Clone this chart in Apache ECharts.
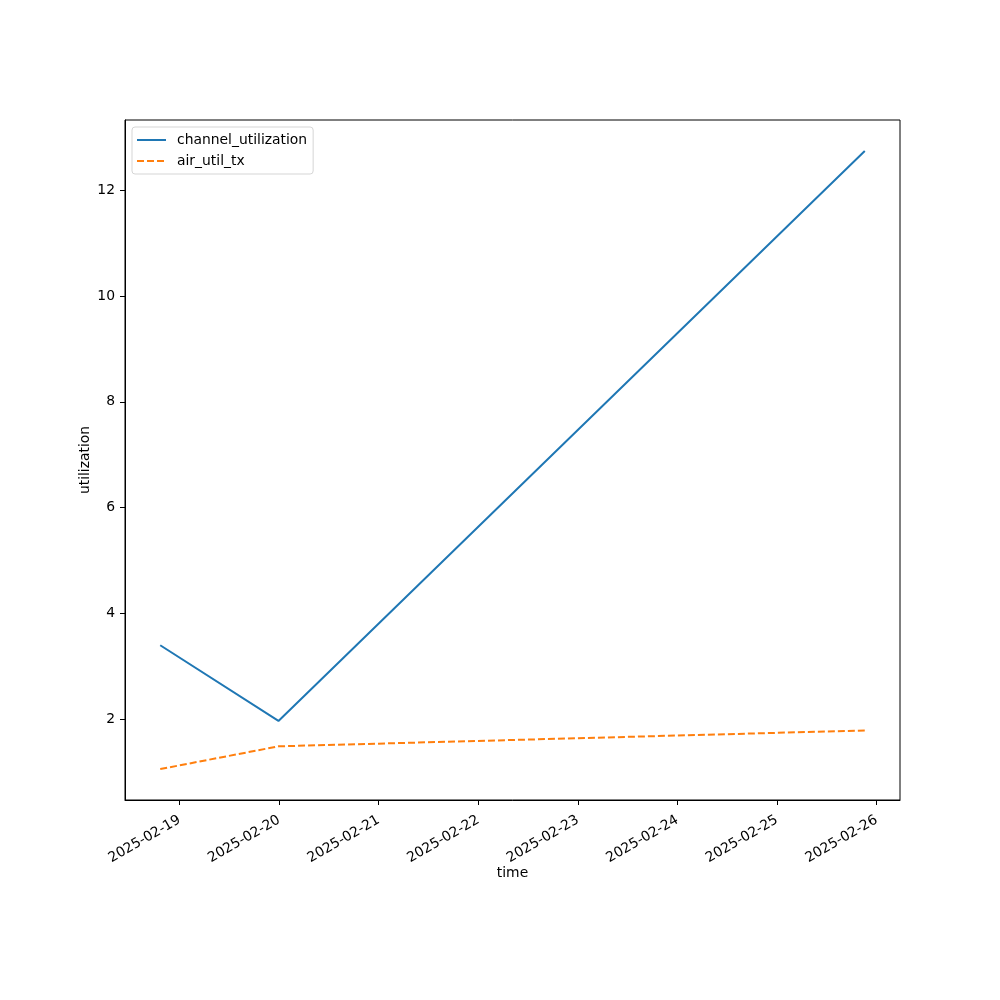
<!DOCTYPE html>
<html>
<head>
<meta charset="utf-8">
<script src="https://cdn.jsdelivr.net/npm/echarts@6/dist/echarts.min.js"></script>
<style>html,body{margin:0;padding:0;background:#fff}#c{width:1000px;height:1000px}</style>
</head>
<body>
<div id="c"></div>
<script>
const times = ['2025-02-18T19:20:00Z', '2025-02-19T23:50:00Z', '2025-02-25T21:10:00Z'];
const channelUtilization = [3.40, 1.97, 12.74];
const airUtilTx = [1.06, 1.49, 1.79];
const xTickLabels = ['2025-02-19','2025-02-20','2025-02-21','2025-02-22','2025-02-23','2025-02-24','2025-02-25','2025-02-26'];
const yTickValues = [2, 4, 6, 8, 10, 12];
const xAxisName = 'time';
const yAxisName = 'utilization';

const ts = times.map(t => Date.parse(t));
const xSpan = ts[ts.length-1] - ts[0];
const xMin = ts[0] - 0.05 * xSpan, xMax = ts[ts.length-1] + 0.05 * xSpan;
const allY = channelUtilization.concat(airUtilTx);
const yLo = Math.min(...allY), yHi = Math.max(...allY), ySpan = yHi - yLo;
const yMin = yLo - 0.05 * ySpan, yMax = yHi + 0.05 * ySpan;
const xTickValues = xTickLabels.map(s => Date.parse(s + 'T00:00:00Z'));

const font = 'DejaVu Sans';
const fs = 13.9;
const chart = echarts.init(document.getElementById('c'), null, {renderer: 'canvas'});
chart.setOption({
  animation: false,
  textStyle: {fontFamily: font},
  grid: {left: 125, right: 100, top: 120, bottom: 200, show: true, borderColor: '#000', borderWidth: 1, backgroundColor: 'transparent'},
  legend: {
    orient: 'vertical', left: 132, top: 127,
    padding: [6, 6, 6, 4], itemGap: 7, itemWidth: 29, itemHeight: 14,
    borderColor: '#d5d5d5', borderWidth: 1, borderRadius: 3, backgroundColor: '#fff',
    itemStyle: {opacity: 0},
    textStyle: {fontFamily: font, fontSize: fs, color: '#000', padding: [0, 0, 0, 6]},
    data: ['channel_utilization', 'air_util_tx']
  },
  graphic: [
    {type: 'text', x: 512.5, y: 873, style: {text: xAxisName, align: 'center', verticalAlign: 'middle', fontFamily: font, fontSize: fs, fill: '#000'}},
    {type: 'text', x: 85, y: 460, rotation: Math.PI / 2, style: {text: yAxisName, align: 'center', verticalAlign: 'middle', fontFamily: font, fontSize: fs, fill: '#000'}}
  ],
  xAxis: {
    type: 'value', min: xMin, max: xMax,
    axisLine: {show: true, lineStyle: {color: '#000', width: 1}},
    axisTick: {show: true, length: 5, inside: false, customValues: xTickValues, lineStyle: {color: '#000'}},
    axisLabel: {
      customValues: xTickValues, rotate: 30, margin: 19,
      fontFamily: font, fontSize: fs, color: '#000',
      formatter: v => new Date(v).toISOString().slice(0, 10)
    },
    splitLine: {show: false}
  },
  yAxis: {
    type: 'value', min: yMin, max: yMax,
    axisLine: {show: true, lineStyle: {color: '#000', width: 1}},
    axisTick: {show: true, length: 5, inside: false, customValues: yTickValues, lineStyle: {color: '#000'}},
    axisLabel: {customValues: yTickValues, margin: 10, fontFamily: font, fontSize: fs, color: '#000'},
    splitLine: {show: false}
  },
  series: [
    {
      name: 'channel_utilization', type: 'line', symbol: 'none',
      data: ts.map((t, i) => [t, channelUtilization[i]]),
      itemStyle: {color: '#1f77b4'},
      lineStyle: {color: '#1f77b4', width: 2}
    },
    {
      name: 'air_util_tx', type: 'line', symbol: 'none',
      data: ts.map((t, i) => [t, airUtilTx[i]]),
      itemStyle: {color: '#ff7f0e'},
      lineStyle: {color: '#ff7f0e', width: 2, type: [7, 3]}
    }
  ]
});
</script>
</body>
</html>
